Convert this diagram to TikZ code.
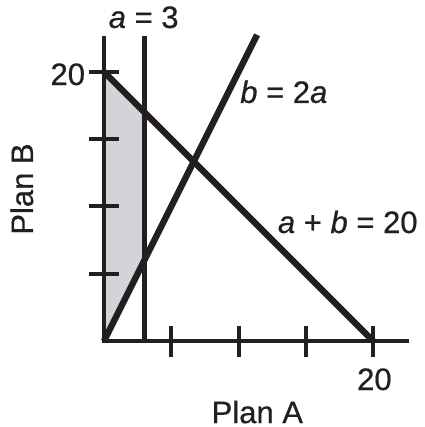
\documentclass[tikz,border=0pt]{standalone}
\usepackage{fontspec}
\setmainfont[FakeBold=0.6]{Liberation Sans}
\usetikzlibrary{positioning}
\definecolor{ink}{RGB}{35,31,32}
\definecolor{regiongrey}{RGB}{211,212,216}

\begin{document}
\begin{tikzpicture}[x=6.725pt,y=6.725pt,font=\fontsize{15.5}{18}\selectfont,
  axis/.style={line width=2.35pt,ink},
  axtick/.style={line width=2pt,ink},
  bound/.style={line width=2.5pt,ink},
  cons/.style={line width=3.2pt,ink},
  lbl/.style={inner sep=0pt,text=ink}]
\useasboundingbox (-7.73,-6.39) rectangle (23.79,25.35);
\coordinate (O) at (0,0);
\coordinate (xend) at (22.68,0);
\coordinate (yend) at (0,22.68);
\coordinate (yB) at (0,20);
\coordinate (xA) at (20,0);
\coordinate (a3bot) at (3,0);
\coordinate (a3top) at (3,22.68);
\coordinate (a3cut) at (3,17);
\coordinate (a3low) at (3,6);
\coordinate (btop) at (11.38,22.76);
\fill[regiongrey] (O) -- (yB) -- (a3cut) -- (a3low) -- cycle;
\foreach \t in {5,10,15,20} {
  \draw[axtick] (-1.1,\t) -- (1.1,\t);
  \draw[axtick] (\t,-1.15) -- (\t,1.15);
}
\draw[axis] (yend) -- (O) -- (xend);
\draw[bound] (a3bot) -- (a3top);
\draw[cons] (O) -- (btop);
\draw[cons] (yB) -- (xA);
\node[lbl,anchor=base] (la3) at (2.95,23.27) {\textit{a} = 3};
\node[lbl,anchor=base east] (l20y) at (-1.38,19.03) {20};
\node[lbl,anchor=base] (l20x) at (20.1,-3.64) {20};
\node[lbl,anchor=base] (lplanA) at (11.4,-6.1) {Plan A};
\node[lbl,anchor=base,rotate=90] (lplanB) at (-5.28,11.3) {Plan B};
\node[lbl,anchor=base west] (lb2a) at (10.1,17.7) {\textit{b} = 2\textit{a}};
\node[lbl,anchor=base west] (lab20) at (12.9,8.03) {\textit{a} + \textit{b} = 20};
\end{tikzpicture}
\end{document}
